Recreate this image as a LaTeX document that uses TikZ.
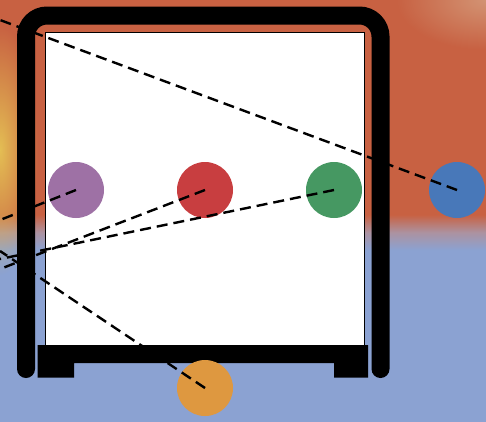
\documentclass[tikz,border=0pt]{standalone}
\usepackage{tikz}
\usetikzlibrary{positioning}
\usetikzlibrary{fadings}
\definecolor{myfire}{RGB}{200,97,66}
\definecolor{mysky}{RGB}{139,162,210}
\definecolor{mymix}{RGB}{172,146,160}
\definecolor{myglow}{RGB}{228,190,84}
\definecolor{mypeach}{RGB}{214,160,128}
\definecolor{mypurple}{RGB}{158,113,165}
\definecolor{myred}{RGB}{200,62,64}
\definecolor{mygreen}{RGB}{70,152,98}
\definecolor{myblue}{RGB}{72,120,185}
\definecolor{myorange}{RGB}{222,152,64}
\pgfdeclareverticalshading{myback}{100bp}{color(0bp)=(mysky); color(45.3bp)=(mysky); color(47.4bp)=(mymix); color(49.5bp)=(myfire); color(100bp)=(myfire)}
\tikzfading[name=myfade, inner color=transparent!0, outer color=transparent!100]
\newcommand\mydot[3][]{%
  \node[mydot,fill=#2,#1] (#3) {};
}

\begin{document}
\begin{tikzpicture}[
x=1pt, y=-1pt,
node distance=73pt,
mydot/.style={
  circle,
  minimum size=56pt,
  inner sep=0pt,
  outer sep=0pt},
frame/.style={line width=18pt, line cap=round, rounded corners=21pt},
ray/.style={line width=2.4pt, dash pattern=on 11pt off 6pt}
]
\useasboundingbox (0,0) rectangle (486,421);
% background
\shade[shading=myback] (0,0) rectangle (486,421);
\fill[myglow, path fading=myfade] (0,150) ellipse (38 and 125);
\fill[mypeach, path fading=myfade, opacity=0.8] (486,0) ellipse (90 and 50);
% box
\draw[fill=white, line width=1pt] (45,32) rectangle (364,346);
\draw[frame] (26,369) |- (380.5,15.5) -- (380.5,369);
\fill (37.5,345) -- (368,345) -- (368,377.5) -- (334,377.5) -- (334,363)
  -- (74,363) -- (74,377.5) -- (37.5,377.5) -- cycle;
% balls
\mydot[at={(205,190)}]{myred}{r}
\mydot[left=of r]{mypurple}{p}
\mydot[right=of r]{mygreen}{g}
\mydot[right=67pt of g]{myblue}{b}
\mydot[below=142pt of r]{myorange}{o}
\coordinate (sb) at (0,20);
\coordinate (sp) at (0,220);
\coordinate (sr) at (0,269);
\coordinate (sg) at (0,259);
\coordinate (so) at (0,251);
\draw [ray] (b.center) -- (sb);
\draw [ray] (p.center) -- (sp);
\draw [ray] (r.center) -- (sr);
\draw [ray] (g.center) -- (sg);
\draw [ray] (o.center) -- (so);
\end{tikzpicture}
\end{document}
